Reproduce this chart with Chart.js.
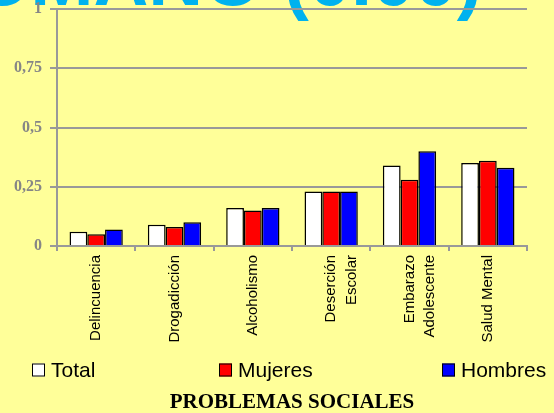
<!DOCTYPE html>
<html>
<head>
<meta charset="utf-8">
<script src="https://cdn.jsdelivr.net/npm/chart.js@4.4.0/dist/chart.umd.min.js"></script>
<style>
  html, body { margin: 0; padding: 0; background: #FFFF99; overflow: hidden; }
  #grafico { display: block; }
</style>
</head>
<body>
<canvas id="grafico" width="554" height="413"></canvas>
<script>
// datos
const categorias = ['Delincuencia', 'Drogadicción', 'Alcoholismo', ['Deserción', 'Escolar'], ['Embarazo', 'Adolescente'], 'Salud Mental'];
const series = ['Total', 'Mujeres', 'Hombres'];
const total   = [0.06, 0.09, 0.16, 0.23, 0.34, 0.35];
const mujeres = [0.05, 0.08, 0.15, 0.23, 0.28, 0.36];
const hombres = [0.07, 0.10, 0.16, 0.23, 0.40, 0.33];
const yTicks = [0, 0.25, 0.5, 0.75, 1];
const yTickLabels = ['0', '0,25', '0,5', '0,75', '1'];
const tituloSup = 'HUMANO (0.00)';
const tituloEje = 'PROBLEMAS SOCIALES';

const GRIS = '#999999';

// título grande de la diapositiva (cortado arriba) y leyenda repartida
const extras = {
  id: 'extras',
  beforeDraw(chart) {
    const ctx = chart.ctx;
    ctx.save();
    ctx.fillStyle = '#00B2EE';
    ctx.font = 'bold 76px Arial, "Liberation Sans", sans-serif';
    ctx.textAlign = 'right';
    ctx.textBaseline = 'alphabetic';
    ctx.fillText(tituloSup, 482, 5);
    ctx.restore();
  },
  afterDraw(chart) {
    const ctx = chart.ctx;
    const xs = [32, 219, 442];
    const y = 370;
    ctx.save();
    ctx.font = '21px Arial, "Liberation Sans", sans-serif';
    ctx.textBaseline = 'middle';
    chart.data.datasets.forEach((ds, i) => {
      const x = xs[i];
      ctx.fillStyle = ds.backgroundColor;
      ctx.fillRect(x, y - 6.5, 13, 13);
      ctx.strokeStyle = '#000';
      ctx.lineWidth = 1;
      ctx.strokeRect(x + 0.5, y - 6, 12, 12);
      ctx.fillStyle = '#000';
      ctx.fillText(ds.label, x + 19, y + 1);
    });
    ctx.restore();
  }
};

const colores = ['#FFFFFF', '#FF0000', '#0000FF'];
const valores = [total, mujeres, hombres];

new Chart(document.getElementById('grafico'), {
  type: 'bar',
  data: {
    labels: categorias,
    datasets: series.map((s, i) => ({
      label: s,
      data: valores[i],
      backgroundColor: colores[i],
      borderColor: '#000',
      borderWidth: 1.5,
      barPercentage: 1,
      categoryPercentage: 0.68
    }))
  },
  options: {
    responsive: false,
    devicePixelRatio: 1,
    animation: false,
    layout: { padding: { top: 9, left: 0, right: 27, bottom: 0 } },
    scales: {
      x: {
        grid: { drawOnChartArea: false, color: GRIS, lineWidth: 2, tickLength: 5, offset: true },
        border: { color: GRIS, width: 2 },
        ticks: {
          color: '#000',
          font: { family: 'Arial, "Liberation Sans", sans-serif', size: 15, lineHeight: 1.35 },
          maxRotation: 90, minRotation: 90, padding: 4, autoSkip: false
        },
        title: {
          display: true,
          text: tituloEje,
          color: '#000',
          font: { family: '"Times New Roman", "Liberation Serif", serif', size: 21, weight: 'bold', lineHeight: 1 },
          padding: { top: 0, bottom: 0 }
        },
        afterFit: s => { s.height = 167; }
      },
      y: {
        min: 0, max: 1,
        afterBuildTicks: s => { s.ticks = yTicks.map(v => ({ value: v })); },
        ticks: {
          callback: v => yTickLabels[yTicks.indexOf(v)],
          color: '#868686',
          font: { family: '"Times New Roman", "Liberation Serif", serif', size: 16, weight: 'bold', lineHeight: 0.1 },
          padding: 8
        },
        grid: { color: GRIS, lineWidth: 2, tickLength: 7 },
        border: { color: GRIS, width: 2 },
        afterFit: s => { s.width = 57; }
      }
    },
    plugins: {
      legend: { display: false },
      tooltip: { enabled: false }
    }
  },
  plugins: [extras]
});
</script>
</body>
</html>
